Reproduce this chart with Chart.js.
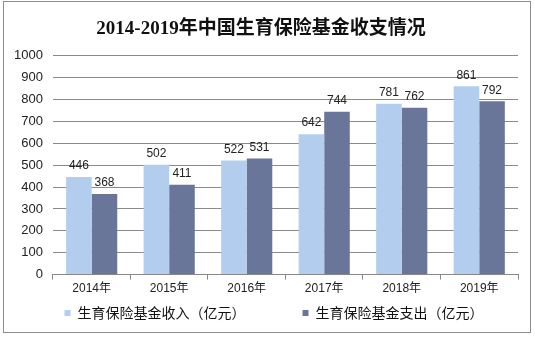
<!DOCTYPE html>
<html>
<head>
<meta charset="utf-8">
<script src="https://cdn.jsdelivr.net/npm/chart.js@4"></script>
<style>
  html, body { margin: 0; padding: 0; background: #fff; }
  #box {
    position: absolute; left: 3px; top: 1px;
    width: 526px; height: 330px;
    border: 1px solid #8c8c8c;
  }
  canvas { display: block; }
</style>
</head>
<body>
<div id="box"><canvas id="myChart" width="526" height="330"></canvas></div>
<script>
const years = ['2014年', '2015年', '2016年', '2017年', '2018年', '2019年']
const income = [446, 502, 522, 642, 781, 861]
const expense = [368, 411, 531, 744, 762, 792]
const yTicks = [0, 100, 200, 300, 400, 500, 600, 700, 800, 900, 1000]

const ctx = document.getElementById('myChart')

// numbers printed above each bar
const valueLabels = {
  id: 'valueLabels',
  afterDatasetsDraw(chart) {
    const c = chart.ctx
    c.save()
    c.font = '12px "Liberation Sans", Arial, sans-serif'
    c.fillStyle = '#222'
    c.textAlign = 'center'
    c.textBaseline = 'bottom'
    chart.data.datasets.forEach((ds, i) => {
      chart.getDatasetMeta(i).data.forEach((bar, j) => {
        c.fillText(ds.data[j], bar.x, bar.y - 5)
      })
    })
    c.restore()
  }
}

// nudge the legend a bit to the right
const legendShift = {
  id: 'legendShift',
  afterLayout(chart) {
    chart.legend.left += 13
    chart.legend.right += 13
  }
}

const data = {
  labels: years,
  datasets: [
    {
      label: '生育保险基金收入（亿元）',
      data: income,
      backgroundColor: '#b3cdee'
    },
    {
      label: '生育保险基金支出（亿元）',
      data: expense,
      backgroundColor: '#6a7699'
    }
  ]
}

const config = {
  type: 'bar',
  data: data,
  options: {
    responsive: false,
    animation: false,
    layout: { padding: { left: 0, right: 12, top: 0, bottom: 2 } },
    datasets: { bar: { categoryPercentage: 0.66, barPercentage: 1 } },
    plugins: {
      title: {
        display: true,
        text: '2014-2019年中国生育保险基金收支情况',
        color: '#111',
        font: { size: 19, weight: 'bold', family: '"Liberation Serif", "Noto Sans CJK SC", serif' },
        padding: { top: 16, bottom: 15 }
      },
      legend: {
        position: 'bottom',
        labels: {
          boxWidth: 6,
          boxHeight: 6,
          padding: 8,
          color: '#111',
          font: { size: 14, family: '"Noto Sans CJK SC", sans-serif' },
          // keep a wide gap after the first entry
          generateLabels(chart) {
            const items = Chart.defaults.plugins.legend.labels.generateLabels(chart)
            items[0].text += '\u3000\u3000\u3000\u3000'
            return items
          }
        }
      },
      tooltip: { enabled: false }
    },
    scales: {
      x: {
        grid: { offset: true, drawOnChartArea: false, tickLength: 5, color: '#888' },
        border: { color: '#888' },
        ticks: { padding: 2, color: '#222', font: { size: 12, family: '"Liberation Sans", "Noto Sans CJK SC", sans-serif' } }
      },
      y: {
        min: 0,
        max: 1000,
        afterBuildTicks(axis) { axis.ticks = yTicks.map(v => ({ value: v })) },
        grid: { color: '#8a8a8a', drawTicks: false },
        border: { display: false },
        ticks: {
          padding: 10,
          color: '#222',
          font: { size: 13, family: '"Liberation Sans", Arial, sans-serif' },
          callback: v => String(v)
        }
      }
    }
  },
  plugins: [valueLabels, legendShift]
}

const myChart = new Chart(ctx, config)
</script>
</body>
</html>
